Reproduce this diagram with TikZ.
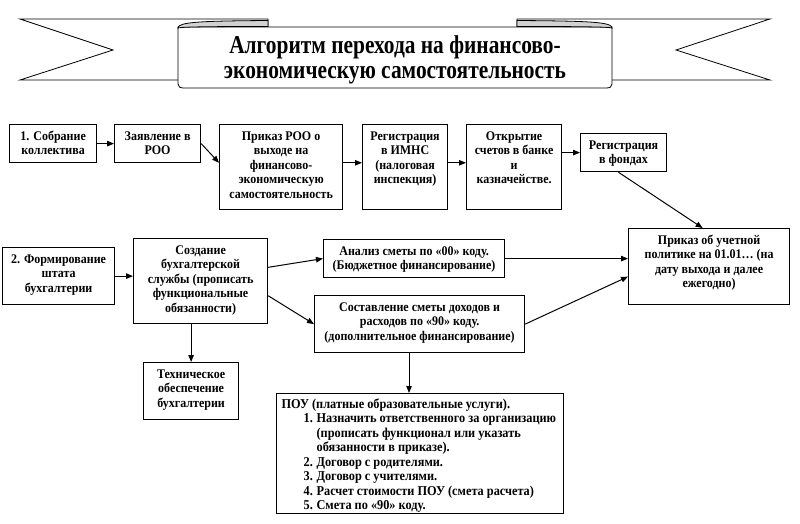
\documentclass[tikz,border=0pt]{standalone}
\usepackage{fontspec}
\usepackage{graphicx}
\setmainfont{Liberation Serif}
\usetikzlibrary{arrows.meta,calc}
\newcommand\bt[3]{\parbox[t][#2pt][t]{#1pt}{\vspace*{5.5pt}\centering\fontsize{12}{13.2}\selectfont\bfseries\scalebox{1}[1.1]{\begin{tabular}{@{}c@{}}#3\end{tabular}}\par}}
\newcommand\itm[2]{\hspace*{27pt}\makebox[13pt][l]{#1}#2}
\newcommand\cnt[1]{\hspace*{40pt}#1}
\begin{document}
\begin{tikzpicture}[x=1pt,y=-1pt,
  bx/.style={draw, line width=1.2pt, inner sep=0pt, anchor=north west, fill=white},
  arr/.style={line width=1pt, -{Triangle[length=7pt,width=5.5pt]}},
  rib/.style={line width=0.8pt, fill=white, line join=miter},
  roll/.style={line width=0.8pt, fill=gray!35}]
\useasboundingbox (0,0) rectangle (800,524);
\fill[white] (0,0) rectangle (800,524);
% banner
\filldraw[rib] (20,19) -- (268,19) -- (268,80) -- (20,80) -- (113,50) -- cycle;
\filldraw[rib] (770,19) -- (517,19) -- (517,80) -- (770,80) -- (676,50) -- cycle;
\filldraw[rib] (178,27) -- (178,84) .. controls (178,87) and (180,88) .. (184,88) -- (606,88) .. controls (610,88) and (612,87) .. (612,84) -- (612,27) -- cycle;
\filldraw[roll] (178,28) .. controls (178,22) and (200,21) .. (268,20.5) -- (268,26.5) .. controls (200,26.5) and (182,27) .. (178,28) -- cycle;
\filldraw[roll] (612,28) .. controls (612,22) and (590,21) .. (517,20.5) -- (517,26.5) .. controls (590,26.5) and (608,27) .. (612,28) -- cycle;
\node[inner sep=0pt] (title) at (395,59.5)
  {\scalebox{1}[1.2]{\parbox{420pt}{\centering\fontsize{21.4}{20.8}\selectfont\bfseries Алгоритм перехода на финансово-\\экономическую самостоятельность}}};
% boxes
\node[bx] (b1) at (9,124) {\bt{87}{38}{1. Собрание\\коллектива}};
\node[bx] (b2) at (114,124) {\bt{86}{38}{Заявление в\\РОО}};
\node[bx] (b3) at (219,124) {\bt{123}{85}{Приказ РОО о\\выходе на\\финансово-\\экономическую\\самостоятельность}};
\node[bx] (b4) at (362,124) {\bt{85}{85}{Регистрация\\в ИМНС\\(налоговая\\инспекция)}};
\node[bx] (b5) at (466,124) {\bt{95}{85}{Открытие\\счетов в банке\\и\\казначействе.}};
\node[bx] (b6) at (580,133) {\bt{86}{38}{Регистрация\\в фондах}};
\node[bx] (b7) at (628,228) {\bt{161}{76}{Приказ об учетной\\политике на 01.01… (на\\дату выхода и далее\\ежегодно)}};
\node[bx] (b8) at (2,247) {\bt{112}{57}{2. Формирование\\штата\\бухгалтерии}};
\node[bx] (b9) at (133,238) {\bt{134}{85}{Создание\\бухгалтерской\\службы (прописать\\функциональные\\обязанности)}};
\node[bx] (b10) at (323,239) {\bt{181}{38}{Анализ сметы по «00» коду.\\(Бюджетное финансирование)}};
\node[bx] (b11) at (314,295) {\bt{210}{57}{Составление сметы доходов и\\расходов по «90» коду.\\(дополнительное финансирование)}};
\node[bx] (b12) at (143,362) {\bt{95}{57}{Техническое\\обеспечение\\бухгалтерии}};
\node[bx] (b13) at (276,393) {\parbox[t][120pt][t]{287pt}{\vspace*{4.5pt}\raggedright\fontsize{12.3}{13.2}\selectfont\bfseries\scalebox{1}[1.1]{\begin{tabular}{@{}l@{}}%
\hspace*{5pt}ПОУ (платные образовательные услуги).\\
\itm{1.}{Назначить ответственного за организацию}\\
\cnt{(прописать функционал или указать}\\
\cnt{обязанности в приказе).}\\
\itm{2.}{Договор с родителями.}\\
\itm{3.}{Договор с учителями.}\\
\itm{4.}{Расчет стоимости ПОУ (смета расчета)}\\
\itm{5.}{Смета по «90» коду.}\end{tabular}}\par}};
% connectors
\draw[arr] (b1.east) -- (b2.west);
\draw[arr] (b2.east) -- ($(b3.north west)!0.45!(b3.south west)$);
\draw[arr] ($(b3.north east)!0.45!(b3.south east)$) -- ($(b4.north west)!0.45!(b4.south west)$);
\draw[arr] ($(b4.north east)!0.45!(b4.south east)$) -- ($(b5.north west)!0.45!(b5.south west)$);
\draw[arr] (b6.west -| b5.east) -- (b6.west);
\draw[arr] ($(b6.south west)!0.44!(b6.south east)$) -- ($(b7.north west)!0.46!(b7.north east)$);
\draw[arr] (b8.east) -- (b8.east -| b9.west);
\draw[arr] ($(b9.north east)!0.34!(b9.south east)$) -- (b10.west);
\draw[arr] ($(b9.north east)!0.67!(b9.south east)$) -- (b11.west);
\draw[arr] (b10.east) -- (b10.east -| b7.west);
\draw[arr] (b11.east) -- ($(b7.north west)!0.63!(b7.south west)$);
\draw[arr] (b12.north |- b9.south) -- (b12.north);
\coordinate (p) at ($(b11.south west)!0.45!(b11.south east)$);
\draw[arr] (p) -- (p |- b13.north);
\end{tikzpicture}
\end{document}
